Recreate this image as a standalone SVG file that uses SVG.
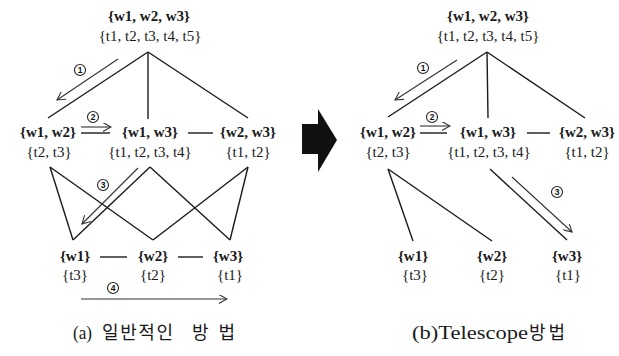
<svg xmlns="http://www.w3.org/2000/svg" width="619" height="356" viewBox="0 0 619 356">
<style>
.w{font-family:"Liberation Serif",serif;font-weight:bold;font-size:15px;fill:#1a1a1a;text-anchor:middle}
.t{font-family:"Liberation Serif",serif;font-size:15px;fill:#1a1a1a;text-anchor:middle}
.e{stroke:#1a1a1a;stroke-width:1.4;fill:none}
.a{stroke:#333;stroke-width:1.1;fill:none}
.c{stroke:#222;stroke-width:1.1;fill:#fff}
.n{font-family:"Liberation Sans",sans-serif;font-weight:bold;font-size:8.5px;fill:#111;text-anchor:middle}
.cap{font-family:"Liberation Serif","Noto Sans CJK KR",serif;font-size:18px;fill:#1a1a1a}
.k{font-family:"Noto Sans CJK KR",sans-serif;font-size:18px;fill:#1a1a1a}
</style>
<defs>
<marker id="ah" viewBox="0 0 10 10" refX="9" refY="5" markerWidth="9" markerHeight="9" markerUnits="userSpaceOnUse" orient="auto">
<path d="M0,0 L9,5 L0,10" fill="none" stroke="#333" stroke-width="1.2"/>
</marker>
</defs>
<rect width="619" height="356" fill="#fff"/>

<g id="connectors">
<line class="e" x1="148" y1="52" x2="48" y2="118"/>
<line class="e" x1="148" y1="52" x2="148" y2="119"/>
<line class="e" x1="148" y1="52" x2="248" y2="118"/>
<line class="e" x1="81" y1="133" x2="110" y2="133"/>
<line class="e" x1="188" y1="133" x2="213" y2="133"/>
<line class="e" x1="50" y1="167" x2="73" y2="240"/>
<line class="e" x1="50" y1="167" x2="153" y2="240"/>
<line class="e" x1="150" y1="167" x2="73" y2="240"/>
<line class="e" x1="150" y1="167" x2="230" y2="240"/>
<line class="e" x1="248" y1="167" x2="153" y2="240"/>
<line class="e" x1="248" y1="167" x2="230" y2="240"/>
<line class="e" x1="100" y1="257" x2="127" y2="257"/>
<line class="e" x1="178" y1="257" x2="203" y2="257"/>
<line class="a" x1="118" y1="59" x2="57" y2="100" marker-end="url(#ah)"/>
<line class="a" x1="81" y1="127" x2="111" y2="127" marker-end="url(#ah)"/>
<line class="a" x1="138" y1="168" x2="82" y2="224" marker-end="url(#ah)"/>
<line class="a" x1="81" y1="299" x2="227" y2="299" marker-end="url(#ah)"/>
<line class="e" x1="487" y1="52" x2="388" y2="117"/>
<line class="e" x1="487" y1="52" x2="488" y2="118"/>
<line class="e" x1="487" y1="52" x2="585" y2="118"/>
<line class="e" x1="420" y1="133" x2="447" y2="133"/>
<line class="e" x1="527" y1="133" x2="550" y2="133"/>
<line class="e" x1="388" y1="169" x2="413" y2="241"/>
<line class="e" x1="388" y1="169" x2="492" y2="241"/>
<line class="e" x1="490" y1="169" x2="567" y2="240"/>
<line class="a" x1="457" y1="60" x2="395" y2="100" marker-end="url(#ah)"/>
<line class="a" x1="420" y1="126" x2="450" y2="126" marker-end="url(#ah)"/>
<line class="a" x1="512" y1="177" x2="572" y2="232" marker-end="url(#ah)"/>
<g id="steps">
<circle class="c" cx="80" cy="70" r="5.5"/><text class="n" x="80" y="73">1</text>
<circle class="c" cx="93" cy="117" r="5.5"/><text class="n" x="93" y="120">2</text>
<circle class="c" cx="103" cy="185" r="5.5"/><text class="n" x="103" y="188">3</text>
<circle class="c" cx="113" cy="288" r="5.5"/><text class="n" x="113" y="291">4</text>
<circle class="c" cx="423" cy="68" r="5.5"/><text class="n" x="423" y="71">1</text>
<circle class="c" cx="432" cy="117" r="5.5"/><text class="n" x="432" y="120">2</text>
<circle class="c" cx="557" cy="192" r="5.5"/><text class="n" x="557" y="195">3</text>
</g>
</g>

<g id="a-w123"><text class="w" x="149" y="21">{w1, w2, w3}</text><text class="t" x="150" y="41">{t1, t2, t3, t4, t5}</text></g>
<g id="a-w12"><text class="w" x="48" y="137">{w1, w2}</text><text class="t" x="49" y="157">{t2, t3}</text></g>
<g id="a-w13"><text class="w" x="150" y="137">{w1, w3}</text><text class="t" x="150" y="157">{t1, t2, t3, t4}</text></g>
<g id="a-w23"><text class="w" x="248" y="137">{w2, w3}</text><text class="t" x="248" y="157">{t1, t2}</text></g>
<g id="a-w1"><text class="w" x="75" y="261">{w1}</text><text class="t" x="75" y="280">{t3}</text></g>
<g id="a-w2"><text class="w" x="153" y="261">{w2}</text><text class="t" x="153" y="280">{t2}</text></g>
<g id="a-w3"><text class="w" x="228" y="261">{w3}</text><text class="t" x="230" y="280">{t1}</text></g>

<g id="big-arrow"><polygon points="302,124 318,124 318,109 337,140 318,172 318,154 302,154" fill="#111"/></g>

<g id="b-w123"><text class="w" x="488" y="21">{w1, w2, w3}</text><text class="t" x="488" y="41">{t1, t2, t3, t4, t5}</text></g>
<g id="b-w12"><text class="w" x="388" y="137">{w1, w2}</text><text class="t" x="388" y="157">{t2, t3}</text></g>
<g id="b-w13"><text class="w" x="488" y="137">{w1, w3}</text><text class="t" x="489" y="157">{t1, t2, t3, t4}</text></g>
<g id="b-w23"><text class="w" x="587" y="137">{w2, w3}</text><text class="t" x="587" y="157">{t1, t2}</text></g>
<g id="b-w1"><text class="w" x="413" y="261">{w1}</text><text class="t" x="415" y="280">{t3}</text></g>
<g id="b-w2"><text class="w" x="492" y="261">{w2}</text><text class="t" x="492" y="280">{t2}</text></g>
<g id="b-w3"><text class="w" x="567" y="261">{w3}</text><text class="t" x="568" y="280">{t1}</text></g>

<g id="caption-a"><text class="cap" y="339"><tspan x="73" textLength="19" lengthAdjust="spacingAndGlyphs">(a)</tspan><tspan class="k" x="102" textLength="71" lengthAdjust="spacing">일반적인</tspan><tspan class="k" x="192" textLength="43" lengthAdjust="spacing">방법</tspan></text></g>
<g id="caption-b"><text class="cap" y="339"><tspan x="412" textLength="116" lengthAdjust="spacingAndGlyphs">(b)Telescope</tspan><tspan class="k" x="529" textLength="36" lengthAdjust="spacing">방법</tspan></text></g>
</svg>
